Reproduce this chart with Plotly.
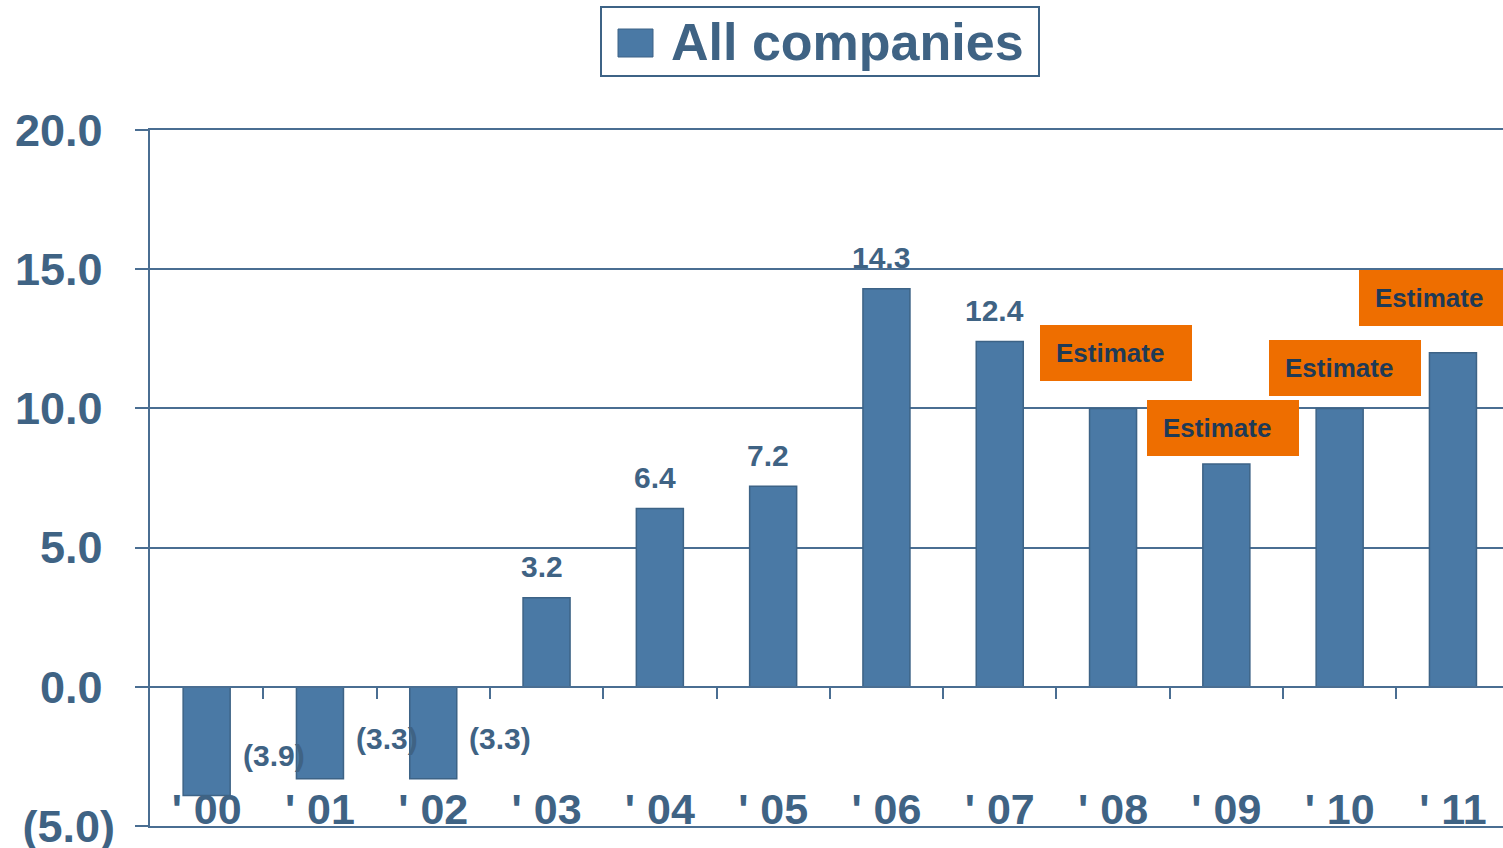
import plotly.graph_objects as go

# ---- data ----
categories = ["' 00", "' 01", "' 02", "' 03", "' 04", "' 05",
              "' 06", "' 07", "' 08", "' 09", "' 10", "' 11"]
values = [-3.9, -3.3, -3.3, 3.2, 6.4, 7.2, 14.3, 12.4, 10.0, 8.0, 10.0, 12.0]
is_estimate = [False] * 8 + [True] * 4
y_tick_vals = [-5, 0, 5, 10, 15, 20]
y_tick_text = ["(5.0)", "0.0\u2008", "5.0\u2008", "10.0\u2008", "15.0\u2008", "20.0\u2008"]
series_name = "All companies"

# ---- styles ----
BAR = "#4A79A5"
BAR_LINE = "#3D6386"
TXT = "#3F6384"
GRID = "#4A6E92"
ORANGE = "#EE6E00"
EST_TXT = "#1E3A56"
FONT = "Liberation Sans, Arial, sans-serif"

W, H = 1503, 848
ML, MR, MT, MB = 150, 0, 130, 22
PW = W - ML - MR
PH = H - MT - MB
slot_px = 113.3
x_max = -0.5 + PW / slot_px
Y_MIN, Y_MAX = -5, 20

# estimate box pixel offsets (layout only)
est_dx = [3, -3, 5, -18]
est_dy = [55, 36, 40, 55]

fig = go.Figure()
fig.add_trace(go.Bar(
    x=list(range(len(categories))), y=values, width=0.415,
    marker=dict(color=BAR, line=dict(color=BAR_LINE, width=1.5)),
    showlegend=False, name=series_name,
))
# helper traces so the extra axes are drawn
fig.add_trace(go.Scatter(x=[0], y=[None], xaxis="x2", showlegend=False, hoverinfo="skip"))
fig.add_trace(go.Scatter(x=[0], y=[None], xaxis="x3", showlegend=False, hoverinfo="skip"))

annotations = []
k = 0
for i, (v, est) in enumerate(zip(values, is_estimate)):
    if est:
        annotations.append(dict(
            x=i, y=v, xref="x", yref="y", text="<b>Estimate</b>", showarrow=False,
            xshift=est_dx[k], yshift=est_dy[k], width=120, height=24, align="left",
            bgcolor=ORANGE, borderpad=16, borderwidth=0,
            font=dict(family=FONT, size=26, color=EST_TXT),
        ))
        k += 1
    elif v >= 0:
        annotations.append(dict(
            x=i, y=v, xref="x", yref="y", text=f"<b>{v:.1f}</b>", showarrow=False,
            xshift=-5, yshift=31, font=dict(family=FONT, size=30, color=TXT),
        ))
    else:
        annotations.append(dict(
            x=i, y=v, xref="x", yref="y", text=f"<b>({abs(v):.1f})</b>", showarrow=False,
            xshift=67, yshift=40, font=dict(family=FONT, size=30, color=TXT),
        ))

# legend box (manual)
annotations.append(dict(
    x=(820 - ML) / PW, y=(H - MB - 41.5) / PH, xref="paper", yref="paper",
    xanchor="center", yanchor="middle",
    text=f"<b>{series_name}</b>\u2009", showarrow=False, width=428, height=59, align="right",
    bordercolor=BAR_LINE, borderwidth=2, borderpad=4, bgcolor="rgba(0,0,0,0)",
    font=dict(family=FONT, size=52, color=TXT),
))

shapes = [dict(
    type="rect", xref="paper", yref="paper", layer="above",
    x0=(618 - ML) / PW, x1=(653 - ML) / PW,
    y0=(H - MB - 57) / PH, y1=(H - MB - 29) / PH,
    fillcolor=BAR, line=dict(color=BAR_LINE, width=1),
)]

zero_pos = (0 - Y_MIN) / (Y_MAX - Y_MIN)
label_pos = 46 / PH  # category labels sit just above the bottom border

fig.update_layout(
    width=W, height=H,
    margin=dict(l=ML, r=MR, t=MT, b=MB, pad=0),
    plot_bgcolor="white", paper_bgcolor="white",
    xaxis=dict(
        range=[-0.5, x_max], showticklabels=False, ticks="", showgrid=False,
        showline=True, mirror=True, linecolor=GRID, linewidth=2, zeroline=False,
        automargin=False,
    ),
    xaxis2=dict(
        overlaying="x", anchor="free", position=zero_pos,
        range=[-0.5, x_max], tickmode="array",
        tickvals=[i + 0.5 for i in range(len(categories) - 1)],
        ticks="outside", ticklen=11, tickwidth=2, tickcolor=GRID,
        showticklabels=False, showgrid=False, showline=True,
        linecolor=GRID, linewidth=2, zeroline=False, automargin=False,
    ),
    xaxis3=dict(
        overlaying="x", anchor="free", position=label_pos, side="bottom",
        range=[-0.5, x_max], tickmode="array",
        tickvals=list(range(len(categories))), ticktext=[f"<b>{c}</b>" for c in categories],
        ticks="", showgrid=False, showline=False, zeroline=False, automargin=False,
        tickfont=dict(family=FONT, size=43, color=TXT),
    ),
    yaxis=dict(
        range=[Y_MIN, Y_MAX], tickmode="array", tickvals=y_tick_vals,
        ticktext=[f"<b>{t}</b>" for t in y_tick_text],
        ticks="outside", ticklen=13, tickwidth=2, tickcolor=GRID,
        ticklabelstandoff=11, ticklabeloverflow="allow", automargin=False,
        showgrid=True, gridcolor=GRID, gridwidth=2,
        showline=True, linecolor=GRID, linewidth=2,
        zeroline=True, zerolinecolor=GRID, zerolinewidth=2,
        tickfont=dict(family=FONT, size=45, color=TXT),
    ),
    annotations=annotations,
    shapes=shapes,
)

fig.write_html("out.html", config={"displayModeBar": False},
               post_script="document.body.style.margin='0';")
